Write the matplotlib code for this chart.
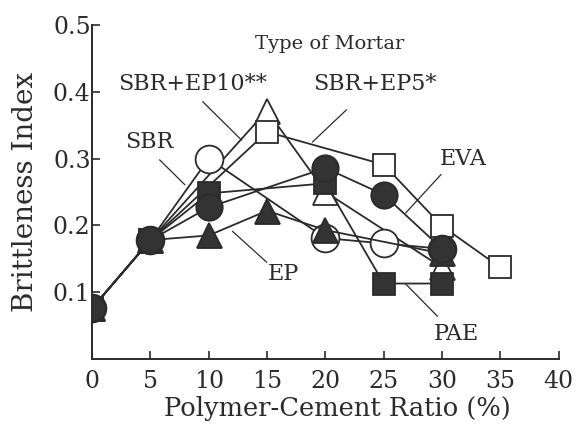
import matplotlib
matplotlib.use('Agg')
import matplotlib.pyplot as plt

INK = '#2b2b2b'
FILL = '#333333'

plt.rcParams['font.family'] = ['DejaVu Serif']
plt.rcParams['text.color'] = INK

# brittleness index vs. polymer-cement ratio for each mortar type
sbr_x = [0, 5, 10, 20, 25, 30]
sbr_y = [0.076, 0.178, 0.300, 0.181, 0.173, 0.165]

ep10_x = [0, 5, 15, 20, 30]
ep10_y = [0.076, 0.178, 0.372, 0.250, 0.137]

ep5_x = [0, 5, 15, 25, 30, 35]
ep5_y = [0.076, 0.178, 0.340, 0.291, 0.199, 0.137]

pae_x = [0, 5, 10, 20, 25, 30]
pae_y = [0.076, 0.178, 0.248, 0.263, 0.113, 0.113]

ep_x = [0, 5, 10, 15, 20, 30]
ep_y = [0.076, 0.178, 0.185, 0.222, 0.193, 0.158]

eva_x = [0, 5, 10, 20, 25, 30]
eva_y = [0.076, 0.178, 0.227, 0.286, 0.246, 0.165]

x_ticks = [0, 5, 10, 15, 20, 25, 30, 35, 40]
y_ticks = [0.1, 0.2, 0.3, 0.4, 0.5]

# label text, text position, leader line (start, end)
labels = [
    ('Type of Mortar', (20.4, 0.472), None),
    ('SBR+EP10**', (8.6, 0.411), ((9.5, 12.8), (0.385, 0.328))),
    ('SBR+EP5*', (24.2, 0.411), ((21.8, 18.9), (0.373, 0.325))),
    ('SBR', (4.95, 0.325), ((5.8, 7.95), (0.298, 0.261))),
    ('EVA', (31.8, 0.300), ((29.9, 26.9), (0.276, 0.219))),
    ('EP', (16.4, 0.128), ((12.05, 14.96), (0.191, 0.145))),
    ('PAE', (31.2, 0.038), ((26.9, 29.6), (0.112, 0.064))),
]

fig = plt.figure(figsize=(5.79, 4.32), dpi=100)
ax = fig.add_axes([0.159, 0.169, 0.806, 0.773])

line_kw = dict(color=INK, lw=1.3, markeredgewidth=1.3, markeredgecolor=INK)
ax.plot(ep10_x, ep10_y, marker='^', ms=18, markerfacecolor='white', **line_kw)
ax.plot(ep5_x, ep5_y, marker='s', ms=16, markerfacecolor='white', **line_kw)
ax.plot(sbr_x, sbr_y, marker='o', ms=20, markerfacecolor='white', **line_kw)
ax.plot(pae_x, pae_y, marker='s', ms=16, markerfacecolor=FILL, **line_kw)
ax.plot(ep_x, ep_y, marker='^', ms=18, markerfacecolor=FILL, **line_kw)
ax.plot(eva_x, eva_y, marker='o', ms=19, markerfacecolor=FILL, **line_kw)

for text, (tx, ty), leader in labels:
    size = 14 if leader is None else 16
    ax.text(tx, ty, text, fontsize=size, ha='center', va='center', color=INK)
    if leader is not None:
        ax.plot(leader[0], leader[1], color=INK, lw=0.9)

ax.set_xlim(0, 40)
ax.set_ylim(0, 0.5)
ax.set_xticks(x_ticks)
ax.set_yticks(y_ticks)
ax.set_xticklabels([str(t) for t in x_ticks])
ax.set_yticklabels([f'{t:.1f}' for t in y_ticks])
ax.tick_params(direction='in', length=6, width=1.2, color=INK, labelsize=17,
               labelcolor=INK)
ax.tick_params(axis='y', pad=1)
ax.tick_params(axis='x', pad=8)

for side in ('top', 'right'):
    ax.spines[side].set_visible(False)
for side in ('left', 'bottom'):
    ax.spines[side].set_color(INK)
    ax.spines[side].set_linewidth(1.4)

ax.set_xlabel('Polymer-Cement Ratio (%)', fontsize=18.5, color=INK, labelpad=0)
ax.xaxis.set_label_coords(0.526, -0.11)
ax.xaxis.label.set_va('top')
ax.set_ylabel('Brittleness Index', fontsize=20, color=INK, labelpad=10)

fig.savefig('out.png', dpi=100)
